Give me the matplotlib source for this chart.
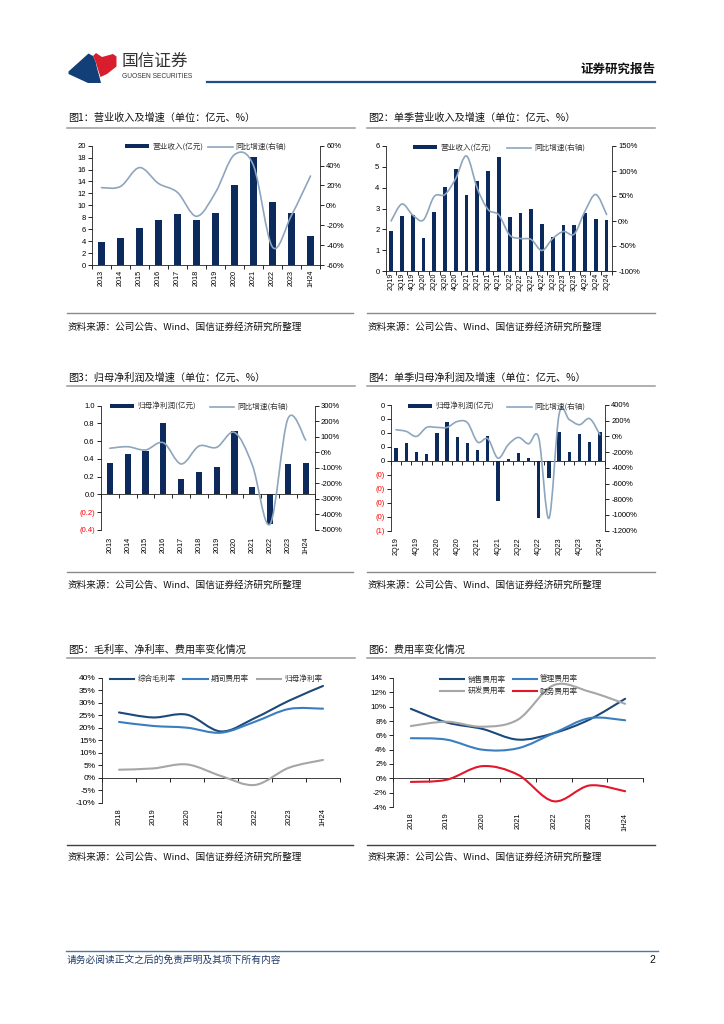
import numpy as np
import matplotlib
matplotlib.use("Agg")
import matplotlib.pyplot as plt
from matplotlib.path import Path
from matplotlib.patches import PathPatch, Polygon, Patch
from matplotlib.lines import Line2D
from matplotlib.transforms import offset_copy

plt.rcParams['font.family'] = ['Liberation Sans', 'Noto Sans CJK SC']

# ---- data ----
years = ["2013", "2014", "2015", "2016", "2017", "2018", "2019", "2020", "2021", "2022", "2023", "1H24"]
rev = [3.8, 4.5, 6.2, 7.6, 8.5, 7.6, 8.7, 13.4, 18.1, 10.6, 8.7, 4.9]
rev_yoy = [17.8, 19, 38, 22, 13, -11, 13, 51, 40, -42, -10, 29.5]

quarters = ["2Q19", "3Q19", "4Q19", "1Q20", "2Q20", "3Q20", "4Q20", "1Q21", "2Q21", "3Q21", "4Q21",
            "1Q22", "2Q22", "3Q22", "4Q22", "1Q23", "2Q23", "3Q23", "4Q23", "1Q24", "2Q24"]
q_rev = [1.93, 2.65, 2.68, 1.6, 2.83, 4.05, 4.92, 3.65, 4.32, 4.8, 5.47,
         2.6, 2.78, 2.97, 2.25, 1.63, 2.2, 2.2, 2.78, 2.48, 2.47]
q_rev_yoy = [0, 34, 12, 2, 49, 53, 85, 130, 65, 23, 12,
             -28, -35, -37, -59, -35, -21, -26, 20, 53, 13]

net_profit = [0.35, 0.46, 0.49, 0.81, 0.18, 0.25, 0.31, 0.71, 0.086, -0.33, 0.345, 0.35]
net_profit_yoy = [26, 36, 15, 62, -75, 40, 32, 128, -81, -462, 216, 79]

q_net_profit = [0.095, 0.13, 0.06, 0.05, 0.2, 0.28, 0.17, 0.13, 0.075, 0.18, -0.29,
                0.01, 0.057, 0.02, -0.41, -0.12, 0.21, 0.06, 0.19, 0.135, 0.21]
q_net_profit_yoy = [85, 64, 0, 115, 115, 115, 190, 175, -72, -30, -277,
                    -106, -13, -94, -21, -1043, 285, 213, 149, 226, 21]
q_label_every = 2

years5 = ["2018", "2019", "2020", "2021", "2022", "2023", "1H24"]
gross_margin = [26.1, 24.1, 25.2, 18.5, 23.9, 30.8, 36.7]
expense_ratio = [22.3, 20.7, 20.0, 18.0, 22.4, 27.5, 27.6]
net_margin = [3.2, 3.7, 5.3, 0.7, -2.9, 4.0, 7.1]

sales_ratio = [9.7, 7.8, 6.9, 5.4, 6.3, 8.2, 11.1]
admin_ratio = [5.6, 5.4, 4.0, 4.2, 6.3, 8.4, 8.1]
rnd_ratio = [7.3, 7.9, 7.2, 8.2, 13.0, 12.1, 10.4]
fin_ratio = [-0.5, -0.2, 1.7, 0.5, -3.2, -1.0, -1.8]

titles = ["图1：营业收入及增速（单位：亿元、%）", "图2：单季营业收入及增速（单位：亿元、%）",
          "图3：归母净利润及增速（单位：亿元、%）", "图4：单季归母净利润及增速（单位：亿元、%）",
          "图5：毛利率、净利率、费用率变化情况", "图6：费用率变化情况"]
source = "资料来源：公司公告、Wind、国信证券经济研究所整理"

NAVY = "#0c2a5b"
LINE = "#8da6be"
W, H = 724, 1024
CJK = ['Noto Sans CJK SC', 'DejaVu Sans']

fig = plt.figure(figsize=(W / 100, H / 100), dpi=100)


def add_ax(l, t, r, b):
    return fig.add_axes([l / W, 1 - b / H, (r - l) / W, (b - t) / H])


def hline(x0, x1, y, color, lw):
    fig.add_artist(Line2D([x0 / W, x1 / W], [1 - y / H, 1 - y / H], transform=fig.transFigure,
                          color=color, lw=lw))


def ftext(x, y, s, **kw):
    fig.text(x / W, 1 - y / H, s, **kw)


def page_poly(pts, color):
    fig.add_artist(Polygon([(px / W, 1 - py / H) for px, py in pts], closed=True,
                           facecolor=color, edgecolor='none', transform=fig.transFigure))


def smooth(ax, xs, ys, color, lw):
    # bezier like excel smoothed line
    pts = np.column_stack([xs, ys]).astype(float)
    n = len(pts)
    verts, codes = [pts[0]], [Path.MOVETO]
    for i in range(n - 1):
        p0 = pts[i - 1] if i > 0 else pts[i]
        p1, p2 = pts[i], pts[i + 1]
        p3 = pts[i + 2] if i + 2 < n else pts[i + 1]
        verts += [p1 + (p2 - p0) / 6, p2 - (p3 - p1) / 6, p2]
        codes += [Path.CURVE4] * 3
    ax.add_patch(PathPatch(Path(verts, codes), fill=False, edgecolor=color, lw=lw,
                           capstyle='round', joinstyle='round', zorder=3))


def cat_axis(ax, labels, pad_pts, fs, show=None):
    n = len(labels)
    ax.set_xlim(-0.5, n - 0.5)
    ax.set_xticks(np.arange(n))
    ax.set_xticks(np.arange(n + 1) - 0.5, minor=True)
    ax.tick_params(axis='x', which='major', length=0, labelbottom=False)
    ax.tick_params(axis='x', which='minor', length=3, width=0.6, direction='out')
    tr = offset_copy(ax.get_xaxis_transform(), fig=fig, y=-pad_pts, units='points')
    for i, s in enumerate(labels):
        if show is not None and i % show:
            continue
        ax.text(i, 0, s, transform=tr, rotation=90, ha='center', va='top', fontsize=fs)


def style_spines(ax, left=True, right=False, bottom=True):
    ax.spines['top'].set_visible(False)
    ax.spines['left'].set_visible(left)
    ax.spines['right'].set_visible(right)
    ax.spines['bottom'].set_visible(bottom)
    for s in ax.spines.values():
        s.set_linewidth(0.6)
        s.set_color('#202020')
    ax.patch.set_alpha(0)


def legend_at(handles, labels, x, y, ncol, colsp, hl=3.2):
    fig.legend(handles, labels, loc='center left', bbox_to_anchor=(x / W, 1 - y / H), ncol=ncol,
               frameon=False, handlelength=hl, handleheight=0.45, handletextpad=0.4,
               columnspacing=colsp, borderpad=0, borderaxespad=0, labelspacing=0.5,
               prop={'family': CJK, 'size': 5.5}, labelcolor='#333333')


def bar_line_chart(box, cats, bars, line, ylim, yticks, ylabels, y2lim, y2ticks, bw, pad, fs,
                   zero_axis=False, show=None):
    ax = add_ax(*box)
    x = np.arange(len(cats))
    ax.bar(x, bars, width=bw, color=NAVY, zorder=2)
    ax.set_ylim(*ylim)
    ax.set_yticks(yticks, labels=ylabels)
    for lbl, v in zip(ax.get_yticklabels(), yticks):
        if v < -1e-9:
            lbl.set_color('#ff0000')
    ax.tick_params(axis='y', direction='out', length=3, width=0.6, labelsize=5.5, pad=1.5)
    style_spines(ax)
    if zero_axis:
        ax.spines['bottom'].set_position(('data', 0))
    cat_axis(ax, cats, pad, fs, show)
    ax2 = ax.twinx()
    smooth(ax2, x, line, LINE, 1.2)
    ax2.set_ylim(*y2lim)
    ax2.set_yticks(y2ticks, labels=[f"{v:.0f}%" for v in y2ticks])
    ax2.tick_params(axis='y', direction='out', length=3, width=0.6, labelsize=5.5, pad=1.5)
    ax2.tick_params(axis='x', which='both', bottom=False, labelbottom=False)
    style_spines(ax2, left=False, right=True, bottom=False)
    return ax, ax2


def paren0(v):
    r = int(np.floor(abs(v) + 0.5 + 1e-9))
    return f"({r})" if v < -1e-9 else f"{r}"


# ---- header ----
page_poly([(68.5, 71.5), (88.5, 53.5), (93, 56), (95.5, 61), (97, 68), (99, 75), (101, 83),
           (88, 83), (68.5, 74)], "#123f78")
page_poly([(93, 56), (96, 53), (102, 57), (113, 54), (116.5, 56.5), (116.5, 66.5), (107, 74),
           (100.5, 77), (97.5, 68), (95.5, 61)], "#d81e2c")
ftext(122, 61, "国信证券", fontsize=12, family=CJK, color='#333333', va='center', ha='left')
ftext(122, 77, "GUOSEN SECURITIES", fontsize=4.8, color='#333333', va='center', ha='left')
ftext(655, 69, "证券研究报告", fontsize=9, family=CJK, weight='bold', color='#111111',
      va='center', ha='right')
hline(207, 655, 82, "#1f4e8c", 1.6)

# ---- titles / source lines ----
for (x0, x1), (ty, ly), t in zip([(67, 355), (367, 655)] * 3,
                                 [(118, 127.5), (118, 127.5), (378, 386), (378, 386),
                                  (650, 658.3), (650, 658.3)], titles):
    ftext(x0 + 1, ty, t, fontsize=7.3, family=CJK, va='center', ha='left', color='#111111')
    hline(x0, x1, ly, '#9a9a9a', 1.1)

for ly, ty in [(313, 326.7), (572, 585), (845, 856.7)]:
    for x0, x1 in [(67, 353), (367, 655)]:
        hline(x0, x1, ly, '#8a8a8a' if ly != 845 else '#404040', 1.0)
        ftext(x0 + 1, ty, source, fontsize=6.9, family=CJK, va='center', ha='left', color='#111111')

# ---- chart 1 ----
bar_line_chart((92, 145.7, 320, 265), years, rev, rev_yoy, (0, 20), np.arange(0, 21, 2),
               [f"{v}" for v in range(0, 21, 2)], (-60, 60), np.arange(-60, 61, 20), 0.33, 3.5, 5.2)
legend_at([Patch(facecolor=NAVY), Line2D([], [], color=LINE, lw=1.2)],
          ["营业收入(亿元)", "同比增速(右轴)"], 125, 147, 2, 0.6)

# ---- chart 2 ----
bar_line_chart((385.7, 146, 612, 271), quarters, q_rev, q_rev_yoy, (0, 6), np.arange(0, 7),
               [f"{v}" for v in range(7)], (-100, 150), np.arange(-100, 151, 50), 0.35, 1.5, 5.0)
legend_at([Patch(facecolor=NAVY), Line2D([], [], color=LINE, lw=1.2)],
          ["营业收入(亿元)", "同比增速(右轴)"], 413, 148, 2, 2.0)

# ---- chart 3 ----
t3 = np.round(np.arange(-0.4, 1.01, 0.2), 1)
bar_line_chart((101, 405.7, 314.6, 530), years, net_profit, net_profit_yoy, (-0.4, 1.0), t3,
               [f"({abs(v):.1f})" if v < 0 else f"{v:.1f}" for v in t3], (-500, 300),
               np.arange(-500, 301, 100), 0.34, 5, 5.2, zero_axis=True)
legend_at([Patch(facecolor=NAVY), Line2D([], [], color=LINE, lw=1.2)],
          ["归母净利润(亿元)", "同比增速(右轴)"], 110, 407, 2, 1.8)

# ---- chart 4 ----
t4 = np.round(np.arange(-0.5, 0.41, 0.1), 1)
bar_line_chart((391, 405, 605, 530.7), quarters, q_net_profit, q_net_profit_yoy, (-0.5, 0.4), t4,
               [paren0(v) for v in t4], (-1200, 400), np.arange(-1200, 401, 200), 0.33, 4.5, 5.2,
               zero_axis=True, show=q_label_every)
legend_at([Patch(facecolor=NAVY), Line2D([], [], color=LINE, lw=1.2)],
          ["归母净利润(亿元)", "同比增速(右轴)"], 408, 407, 2, 1.7)

# ---- chart 5 ----
ax5 = add_ax(102, 677.7, 340, 802.7)
c5 = ["#1b4a7a", "#3a7ebf", "#a6a6a6"]
x5 = np.arange(len(years5))
for vals, c in zip([gross_margin, expense_ratio, net_margin], c5):
    smooth(ax5, x5, vals, c, 1.5)
ax5.set_ylim(-10, 40)
ax5.set_yticks(np.arange(-10, 41, 5), labels=[f"{v}%" for v in range(-10, 41, 5)])
ax5.tick_params(axis='y', direction='out', length=3, width=0.6, labelsize=6, pad=1.5)
style_spines(ax5)
ax5.spines['bottom'].set_position(('data', 0))
cat_axis(ax5, years5, 4, 5.4)
legend_at([Line2D([], [], color=c, lw=1.5) for c in c5], ["综合毛利率", "期间费用率", "归母净利率"],
          110, 679, 3, 1.0)

# ---- chart 6 ----
ax6 = add_ax(393, 678, 643, 807)
c6 = ["#1b4a7a", "#3a7ebf", "#a6a6a6", "#e3162b"]
x6 = np.arange(len(years5))
for vals, c in zip([sales_ratio, admin_ratio, rnd_ratio, fin_ratio], c6):
    smooth(ax6, x6, vals, c, 1.5)
ax6.set_ylim(-4, 14)
ax6.set_yticks(np.arange(-4, 15, 2), labels=[f"{v}%" for v in range(-4, 15, 2)])
ax6.tick_params(axis='y', direction='out', length=3, width=0.6, labelsize=5.8, pad=1.5)
style_spines(ax6)
ax6.spines['bottom'].set_position(('data', 0))
cat_axis(ax6, years5, 4, 5.4)
h6 = [Line2D([], [], color=c, lw=1.5) for c in c6]
legend_at([h6[0], h6[2], h6[1], h6[3]], ["销售费用率", "研发费用率", "管理费用率", "财务费用率"],
          440, 685.5, 2, 0.9)

# ---- footer ----
hline(66, 658, 950.5, "#4a78a8", 1.0)
ftext(67, 960, "请务必阅读正文之后的免责声明及其项下所有内容", fontsize=7, family=CJK,
      color='#1f3a68', va='center', ha='left', style='italic')
ftext(655, 960, "2", fontsize=7.5, color='#111111', va='center', ha='right')

fig.savefig("out.png", dpi=100)
